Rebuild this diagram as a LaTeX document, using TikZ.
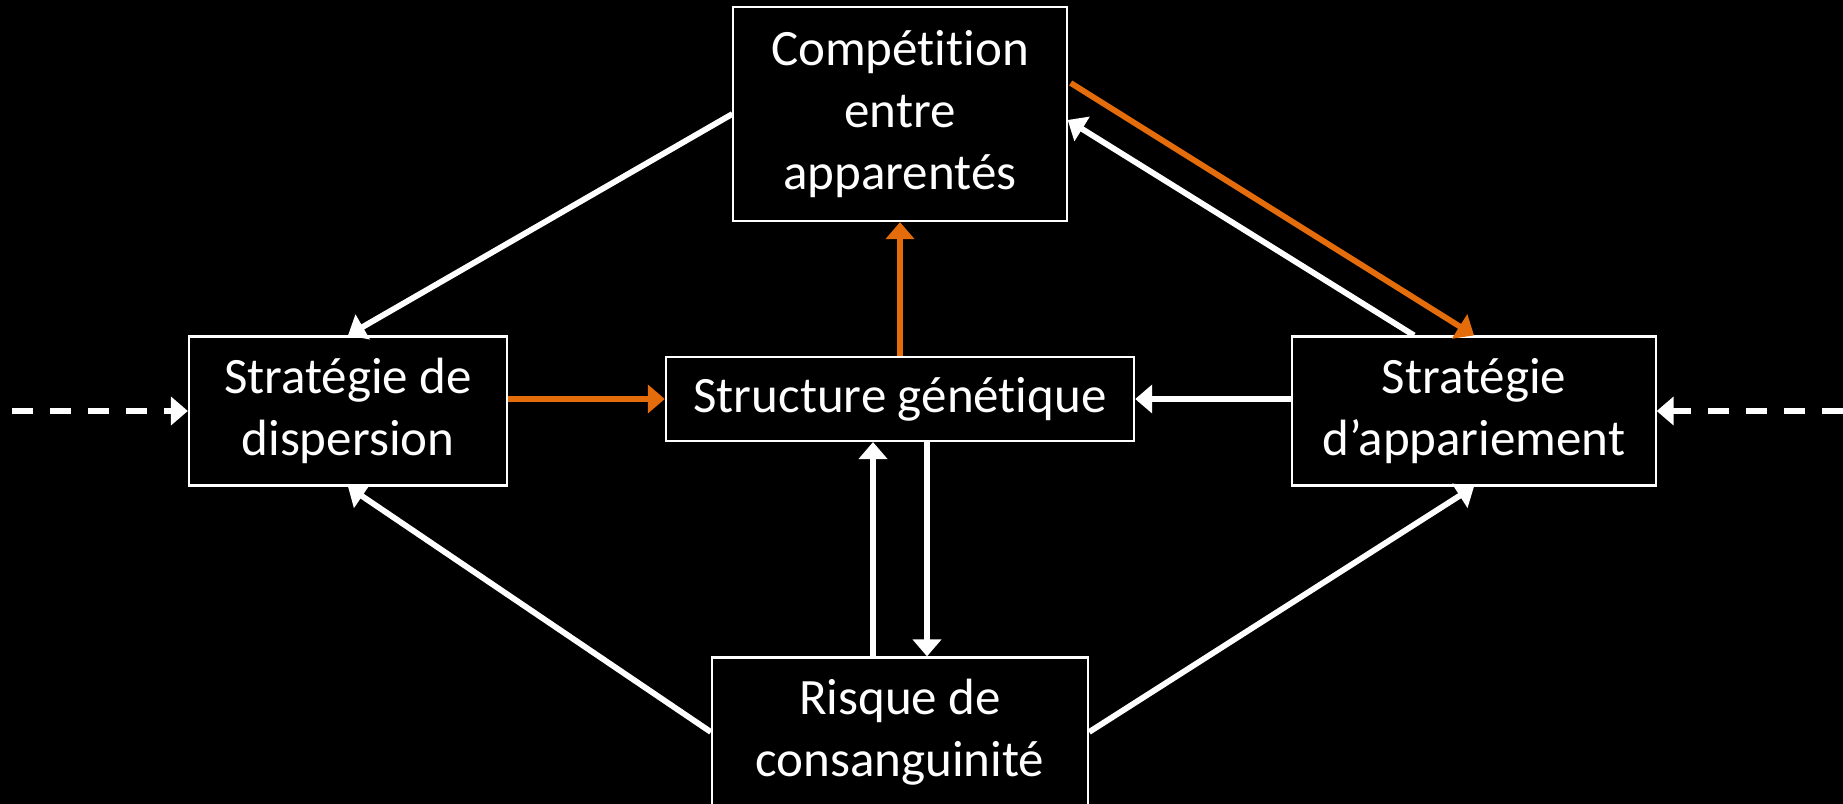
\documentclass[tikz,border=0pt]{standalone}
\usepackage{fontspec}
\setmainfont{Carlito}[Ligatures=NoCommon]
\usetikzlibrary{calc,arrows.meta}

\definecolor{orangeflow}{RGB}{228,108,10}

\begin{document}
\begin{tikzpicture}[x=0.01cm,y=-0.01cm,
      nodes={draw=white,rectangle,line width=0.6pt,inner sep=0pt,align=center,
        text=white,font=\fontsize{14.5}{17.7}\selectfont},
      fl/.style={white,line width=1.65pt,-{Triangle[length=0.17cm,width=0.28cm]}},
      hot/.style={fl,draw=orangeflow,-{Triangle[length=0.17cm,width=0.28cm,fill=orangeflow]}},
      ext/.style={fl,line width=1.75pt,dash pattern=on 0.21cm off 0.17cm}]
    \useasboundingbox (0,0) rectangle (1843,804);
    \clip (0,0) rectangle (1843,804);
    \fill[black] (0,0) rectangle (1843,804);

    \node(comp) at (900,114) [minimum width=3.33cm,minimum height=2.14cm]{Compétition\\entre\\apparentés};
    \node(disp) at (348,411) [minimum width=3.18cm,minimum height=1.49cm]{Stratégie de\\dispersion};
    \node(struc) at (900,399) [minimum width=4.68cm,minimum height=0.84cm]{Structure génétique};
    \node(appar) at (1474,411) [minimum width=3.63cm,minimum height=1.49cm]{Stratégie\\d’appariement};
    \node(risque) at (900,732) [minimum width=3.76cm,minimum height=1.49cm]{Risque de\\consanguinité};

    % outside inputs
    \coordinate (inL) at (12,411);
    \coordinate (inR) at (1843,411);
    \draw[ext] (inL) -- (disp.west);
    \draw[ext] (inR) -- (appar.east);

    % orange path
    \draw[hot] (disp.east |- struc.west) -- (struc.west);
    \draw[hot] (struc.north) -- (comp.south);
    \draw[hot] ($(comp.east)+(3,-31)$) -- (appar.north);

    % white links
    \draw[fl] (comp.west) -- (disp.north);
    \draw[fl] ($(appar.north)+(-60,0)$) -- ($(comp.east)+(0,6)$);
    \draw[fl] (appar.west |- struc.east) -- (struc.east);
    \draw[fl] ($(risque.north)+(-27,0)$) -- ($(struc.south)+(-27,0)$);
    \draw[fl] ($(struc.south)+(27,0)$) -- ($(risque.north)+(27,0)$);
    \draw[fl] (risque.west) -- (disp.south);
    \draw[fl] (risque.east) -- (appar.south);

\end{tikzpicture}
\end{document}
